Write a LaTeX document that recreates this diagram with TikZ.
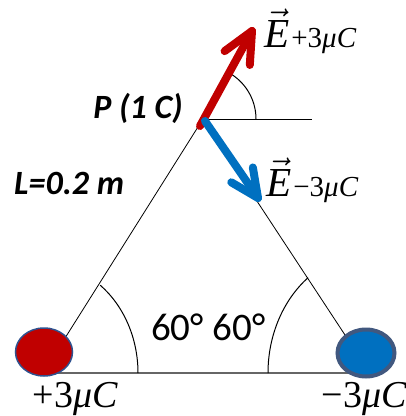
\documentclass[tikz,border=0pt]{standalone}
\usepackage{graphicx}
\usepackage[no-math]{fontspec}
\setmainfont{Carlito}
\newfontfamily\mathlike{Liberation Serif}
\usetikzlibrary{calc,shapes.geometric}
\definecolor{cred}{HTML}{C00000}
\definecolor{cblue}{HTML}{0070C0}
\definecolor{cborder}{HTML}{2F528F}
\definecolor{cborderb}{HTML}{41587F}
\tikzset{
  side/.style={draw=black, line width=0.8pt},
  baseln/.style={draw=black!60, line width=1.4pt},
  anglearc/.style={draw=black, line width=1pt},
  vecarrow/.style={line width=8pt, line cap=round, line join=round},
  charge/.style={ellipse, inner sep=0pt},
  lbl/.style={inner sep=0pt, font=\fontsize{34}{36}\selectfont\bfseries\itshape},
  qlbl/.style={inner sep=0pt, font=\fontsize{38}{40}\selectfont\mathlike},
}
\newcommand{\fieldlabel}[1]{\scalebox{4}{$\vec{\hbox{\fontsize{10.3}{12}\selectfont\mathlike\itshape E}}$}\kern2pt{\fontsize{29}{31}\selectfont\mathlike #1{\itshape μC}}}
\begin{document}
\begin{tikzpicture}[x=1pt, y=-1pt]
\useasboundingbox (0,0) rectangle (406,416);
% geometry
\coordinate (P) at (203,119);
\coordinate (A) at (43,373);
\coordinate (B) at (370,373);
\coordinate (H) at (312,119);
% sides
\draw[side] (P) -- (A);
\draw[side] (P) -- (B);
\draw[baseln] (A) -- (B);
\draw[side] (P) -- (H);
% angle arcs
\draw[anglearc] (138,373) arc[start angle=0, end angle=53, x radius=95pt, y radius=110pt];
\draw[anglearc] (268,373) arc[start angle=180, end angle=127.4, x radius=102pt, y radius=120pt];
\draw[anglearc] ($(P)+(53,0)$) arc[start angle=0, end angle=62, radius=53pt];
% charges
\node[charge, fill=cred, draw=cborder, line width=1.5pt, minimum width=57pt, minimum height=48pt] (q1) at (44,352) {};
\node[charge, fill=cblue, draw=cborderb, line width=4pt, minimum width=57pt, minimum height=47pt] (q2) at (366,353) {};
% field vectors
\coordinate (Rs) at (200,126);
\coordinate (Rt) at (252,31);
\coordinate (Bs) at (205,121);
\coordinate (Bt) at (258,198);
\draw[vecarrow, cred] (Rs) -- (Rt);
\draw[vecarrow, cred] ($(Rt)!34pt!25:(Rs)$) -- (Rt) -- ($(Rt)!34pt!-25:(Rs)$);
\draw[vecarrow, cblue] (Bs) -- (Bt);
\draw[vecarrow, cblue] ($(Bt)!31pt!25:(Bs)$) -- (Bt) -- ($(Bt)!31pt!-25:(Bs)$);
% labels
\node[lbl, anchor=base east] (pl) at (183,118) {P (1 C)};
\node[lbl, anchor=base west] (ll) at (14,194) {L=0.2 m};
\node[inner sep=0pt, anchor=base west, font=\fontsize{39}{40}\selectfont] (ang) at (151,340) {60° 60°};
\node[qlbl, anchor=base] (q1l) at (75,407) {+3{\itshape μC}};
\node[qlbl, anchor=base east] (q2l) at (407,407) {−3{\itshape μC}};
\node[inner sep=0pt, anchor=base west] (e1) at (264,47) {\fieldlabel{+3}};
\node[inner sep=0pt, anchor=base west] (e2) at (266,196) {\fieldlabel{−3}};
\end{tikzpicture}
\end{document}
